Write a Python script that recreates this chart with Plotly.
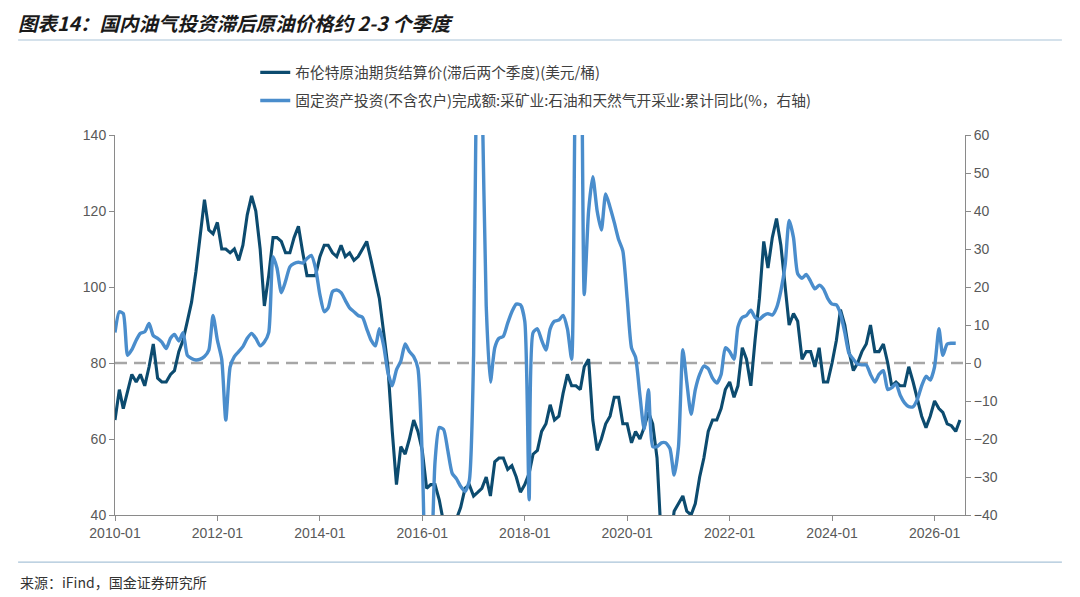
import pandas as pd
import plotly.graph_objects as go

# 布伦特原油期货结算价(滞后两个季度)，美元/桶，2010-01 起按月
brent = [
    65, 73, 68, 73, 77, 75, 77, 74, 79, 85, 76, 75,          # 2010
    75, 77, 78, 83, 86, 91, 96, 104, 114, 123, 115, 114,     # 2011
    117, 110, 110, 109, 110, 107, 111, 119, 124, 120, 110, 95,  # 2012
    103, 113, 113, 112, 109, 109, 113, 116, 109, 103, 103, 103,  # 2013
    108, 111, 111, 109, 108, 111, 108, 109, 107, 108, 110, 112,  # 2014
    107, 102, 97, 88, 79, 62, 48, 58, 56, 60, 65, 62,        # 2015
    57, 47, 48, 48, 44, 38, 31, 33, 39, 42, 47, 48,          # 2016
    45, 46, 47, 50, 45, 54, 55, 55, 52, 53, 50, 46,          # 2017
    48, 51, 56, 57, 62, 64, 69, 65, 66, 72, 77, 74,          # 2018
    74, 73, 79, 81, 65, 57, 60, 64, 66, 71, 71, 64,          # 2019
    64, 59, 62, 60, 63, 67, 64, 55, 33, 27, 32, 41,          # 2020
    43, 45, 41, 40, 43, 50, 55, 62, 65, 65, 68, 73,          # 2021
    75, 71, 74, 84, 81, 74, 86, 97, 112, 105, 113, 118,      # 2022
    111, 100, 90, 93, 91, 81, 83, 83, 79, 84, 75, 75,        # 2023
    80, 86, 94, 90, 83, 78, 80, 83, 85, 90, 83, 83,          # 2024
    85, 80, 74, 75, 74, 74, 79, 75, 70, 66, 63, 66,          # 2025
    70, 68, 67, 64, 63.5, 62, 65,                            # 2026
]

# 固定资产投资(不含农户)完成额:采矿业:石油和天然气开采业:累计同比(%)
invest = [
    8, 13.5, 13, 2, 3.5, 6, 7.8, 8.2, 10.4, 7.2, 6.5, 5.5,          # 2010
    3.8, 6.5, 7.5, 5.8, 8, 2, 1.2, 0.8, 1, 1.7, 3.4, 12.5,          # 2011
    6, 1, -15, -1, 1.7, 3, 4.3, 6.5, 7.8, 6.5, 4.5, 5.5,            # 2012
    8, 28, 25, 18.5, 21.5, 25.3, 26.2, 26.5, 26.3, 27.5, 28.3, 25,  # 2013
    18, 13.5, 14.5, 18.8, 19.2, 18.5, 16.5, 14.5, 13.5, 12.5, 12, 9,  # 2014
    6, 4.5, 9, 4.5, -2.5, -6, -1.8, 0.5, 5, 3, 1.7, -1.4,           # 2015
    -25, -60, -55, -26, -17, -17.5, -23, -29, -30.5, -32.5, -33.8, -31,  # 2016
    2, 110, 75, 15, -5, 4, 6.5, 7, 10.5, 13.5, 15.5, 15.3,          # 2017
    11, -36, 8, 9, 6, 3.4, 9, 11, 11.3, 12.5, 9, 1,                 # 2018
    85, 100, 18, 40, 49, 40, 35, 44.5, 41, 37, 32.5, 29.5,          # 2019
    17, 4, 1.5, -8.5, -17.5, -7, -22, -22, -21, -21, -22.5, -29.5,  # 2020
    -22, 3.5, -5, -13.5, -7, -3, -0.8, -1.5, -4, -5.3, -3, 4,       # 2021
    3, 1, 9.5, 12, 12.5, 13.9, 12, 11.5, 12.5, 13, 12.6, 14.5,      # 2022
    19, 26, 37.5, 33, 23.5, 22.3, 23.3, 21.5, 19.5, 20.5, 19.5, 17,  # 2023
    15.5, 15.3, 13, 8, 2.5, 1, -0.3, -0.5, -0.5, -3, -5, -3,        # 2024
    -2, -7, -6.5, -5.5, -8.5, -10.5, -11.5, -11.5, -9.5, -6, -3.5, -4.5,  # 2025
    -1, 9, 2, 5, 5.2, 5.2,                                          # 2026
]

brent_dates = pd.date_range("2010-01-01", periods=len(brent), freq="MS")
invest_dates = pd.date_range("2010-01-01", periods=len(invest), freq="MS")

name_brent = "布伦特原油期货结算价(滞后两个季度)(美元/桶)"
name_invest = "固定资产投资(不含农户)完成额:采矿业:石油和天然气开采业:累计同比(%，右轴)"

dark = "#0c4b6f"
light = "#4a8dcc"
axis_col = "#8a8a8a"
tick_font = dict(family="Liberation Sans, Arial", size=14, color="#595959")
cjk = "Noto Sans CJK SC"

fig = go.Figure()
fig.add_trace(go.Scatter(
    x=brent_dates, y=brent, name=name_brent, mode="lines",
    line=dict(color=dark, width=3.1), legendgroup="a",
))
fig.add_trace(go.Scatter(
    x=invest_dates, y=invest, name=name_invest, mode="lines", yaxis="y2",
    line=dict(color=light, width=3.4, shape="spline", smoothing=0.6),
    legendgroup="b",
))

# zero line of right axis
fig.add_shape(type="line", xref="paper", yref="y2", x0=0, x1=1, y0=0, y1=0,
              line=dict(color="#a6a6a6", width=2.5, dash="12px,7px"), layer="below")
# header and footer rules
fig.add_shape(type="line", xref="paper", yref="paper", x0=-0.114, x1=1.114,
              y0=1.25, y1=1.25, line=dict(color="#a9c3d8", width=1.2))
fig.add_shape(type="line", xref="paper", yref="paper", x0=-0.114, x1=1.114,
              y0=-0.124, y1=-0.124, line=dict(color="#a9c3d8", width=1.2))

fig.add_annotation(xref="paper", yref="paper", x=-0.114, y=-0.176,
                   xanchor="left", yanchor="middle", showarrow=False,
                   text="来源：iFind，国金证券研究所",
                   font=dict(family=cjk, size=14, color="#333333"))

# the page body adds an 8px offset, so margins are shifted to compensate
fig.update_layout(
    width=1080, height=597,
    margin=dict(l=107, r=123, t=127, b=90),
    paper_bgcolor="white", plot_bgcolor="white",
    title=dict(text="图表14：国内油气投资滞后原油价格约 2-3 个季度",
               xref="container", yref="container", x=0.0093, y=0.973,
               xanchor="left", yanchor="middle",
               font=dict(family=cjk, size=19.5, color="#1a1a1a",
                         weight="bold", style="italic")),
    legend=dict(x=0.165, y=1.207, xanchor="left", yanchor="top",
                orientation="v", tracegroupgap=6, bgcolor="rgba(0,0,0,0)",
                font=dict(family=cjk, size=14.7, color="#404040")),
    showlegend=True,
    xaxis=dict(
        type="date", range=["2010-01-01", "2026-08-06"],
        tick0="2010-01-01", dtick="M24", tickformat="%Y-%m",
        showgrid=False, zeroline=False, showline=True, linecolor=axis_col,
        ticks="outside", ticklen=5, tickcolor=axis_col, tickfont=tick_font,
    ),
    yaxis=dict(
        range=[40, 140], dtick=20, showgrid=False, zeroline=False,
        showline=True, linecolor=axis_col, ticks="outside", ticklen=5,
        tickcolor=axis_col, tickfont=tick_font,
    ),
    yaxis2=dict(
        range=[-40, 60], dtick=10, overlaying="y", side="right",
        showgrid=False, zeroline=False, showline=True, linecolor=axis_col,
        ticks="outside", ticklen=5, tickcolor=axis_col, tickfont=tick_font,
    ),
)

fig.write_html("out.html")
